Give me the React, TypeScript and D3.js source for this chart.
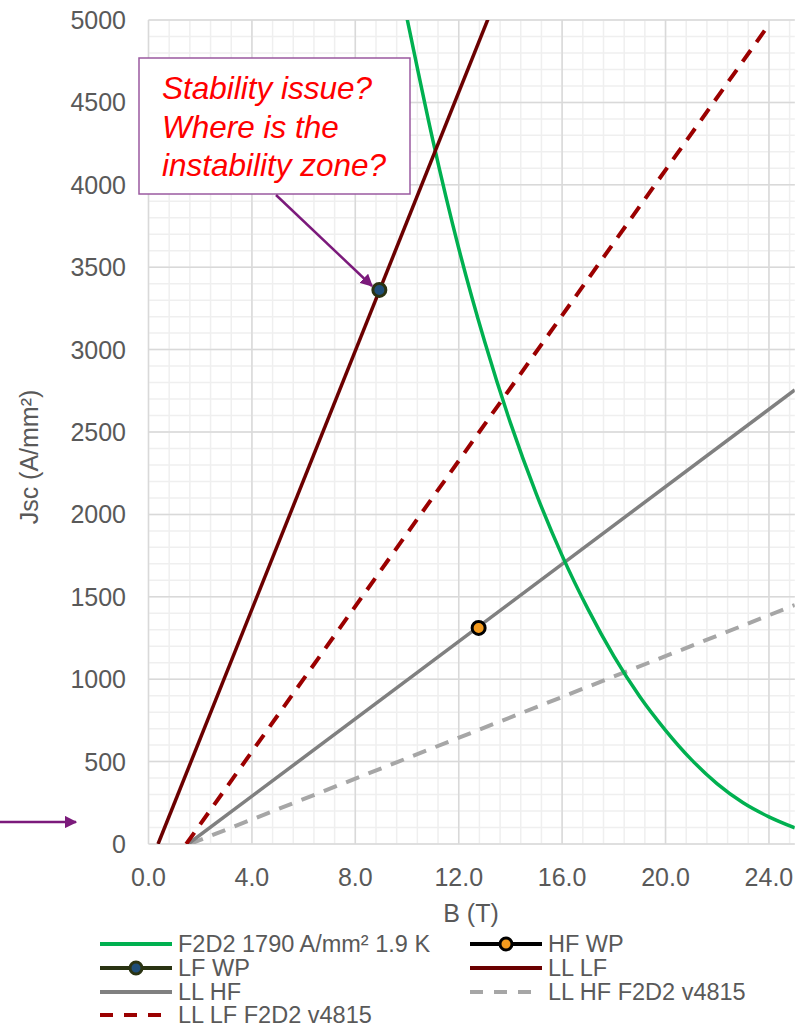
import React from "react";
import * as d3 from "d3";

// ---- data ----
const f2d2B = [9.8, 10, 11, 12, 13, 14, 15, 16, 17, 18, 19, 20, 21, 22, 23, 24, 25];
const f2d2J = [5160, 5010, 4270, 3615, 3050, 2555, 2125, 1750, 1425, 1140, 895, 690, 512, 365, 250, 165, 98];

const llLFB = [0.37, 13.5];
const llLFJ = [0, 5150];
const llLFv4815B = [1.46, 23.9];
const llLFv4815J = [0, 4950];
const llHFB = [1.53, 25];
const llHFJ = [0, 2755];
const llHFv4815B = [1.6, 25];
const llHFv4815J = [0, 1450];

const lfWP = { b: 8.93, j: 3362 };
const hfWP = { b: 12.77, j: 1311 };

const xTicks = [0, 4, 8, 12, 16, 20, 24];
const yTicks = [0, 500, 1000, 1500, 2000, 2500, 3000, 3500, 4000, 4500, 5000];

const annotationLines = ["Stability issue?", "Where is the", "instability zone?"];

const legendItems = [
  { label: "F2D2 1790 A/mm² 1.9 K", color: "#00b050", dash: null, marker: null, col: 0, row: 0 },
  { label: "HF WP", color: "#000000", dash: null, marker: "#f39a1e", col: 1, row: 0 },
  { label: "LF WP", color: "#2a3312", dash: null, marker: "#1f4e79", col: 0, row: 1 },
  { label: "LL LF", color: "#6b0000", dash: null, marker: null, col: 1, row: 1 },
  { label: "LL HF", color: "#808080", dash: null, marker: null, col: 0, row: 2 },
  { label: "LL HF F2D2 v4815", color: "#a6a6a6", dash: "13,11", marker: null, col: 1, row: 2 },
  { label: "LL LF F2D2 v4815", color: "#9b0000", dash: "13,11", marker: null, col: 0, row: 3 },
];

const FONT = "'Liberation Sans', Arial, sans-serif";

export default function App() {
  const W = 796, H = 1028;
  const x = d3.scaleLinear().domain([0, 25]).range([148.5, 794.8]);
  const y = d3.scaleLinear().domain([0, 5000]).range([844, 20]);
  const line = d3.line<[number, number]>().x(d => x(d[0])).y(d => y(d[1]));
  const smooth = d3.line<[number, number]>().x(d => x(d[0])).y(d => y(d[1])).curve(d3.curveMonotoneX);
  const zip = (a: number[], b: number[]) => a.map((v, i) => [v, b[i]] as [number, number]);

  const minorX = d3.range(0, 25.001, 0.8);
  const minorY = d3.range(0, 5001, 100);

  const legendColX = [100, 470];
  const legendRowY = [944, 968, 992, 1015];

  return (
    <svg width={W} height={H} style={{ position: "absolute", left: 0, top: 0, background: "#fff" }} fontFamily={FONT}>
      <defs>
        <clipPath id="plot">
          <rect x={x(0)} y={y(5000)} width={x(25) - x(0)} height={y(0) - y(5000)} />
        </clipPath>
        <marker id="arr" viewBox="0 0 10 10" refX="9" refY="5" markerWidth="5" markerHeight="5" orient="auto-start-reverse" markerUnits="strokeWidth">
          <path d="M0,0 L10,5 L0,10 z" fill="#7b1a7b" />
        </marker>
      </defs>
      {/* grid */}
      {minorX.map((v, i) => (
        <line key={"mx" + i} x1={x(v)} x2={x(v)} y1={y(0)} y2={y(5000)} stroke="#efefef" strokeWidth={1.5} />
      ))}
      {minorY.map((v, i) => (
        <line key={"my" + i} x1={x(0)} x2={x(25)} y1={y(v)} y2={y(v)} stroke="#efefef" strokeWidth={1.5} />
      ))}
      {xTicks.map(v => (
        <line key={"gx" + v} x1={x(v)} x2={x(v)} y1={y(0)} y2={y(5000)} stroke="#d9d9d9" strokeWidth={1.5} />
      ))}
      {yTicks.map(v => (
        <line key={"gy" + v} x1={x(0)} x2={x(25)} y1={y(v)} y2={y(v)} stroke="#d9d9d9" strokeWidth={1.5} />
      ))}
      {/* tick labels */}
      {xTicks.map(v => (
        <text key={"tx" + v} x={x(v)} y={886} textAnchor="middle" fontSize={25} fill="#595959">{v.toFixed(1)}</text>
      ))}
      {yTicks.map(v => (
        <text key={"ty" + v} x={126} y={y(v) + 9} textAnchor="end" fontSize={25} fill="#595959">{v}</text>
      ))}
      <text x={471} y={922} textAnchor="middle" fontSize={25} fill="#595959">B (T)</text>
      <text transform={`translate(38,457) rotate(-90)`} textAnchor="middle" fontSize={25} fill="#595959">Jsc (A/mm²)</text>

      {/* series */}
      <g clipPath="url(#plot)" fill="none">
        <path d={line(zip(llHFv4815B, llHFv4815J)) || ""} stroke="#a6a6a6" strokeWidth={4} strokeDasharray="14,10" />
        <path d={line(zip(llHFB, llHFJ)) || ""} stroke="#808080" strokeWidth={3.5} />
        <path d={line(zip(llLFv4815B, llLFv4815J)) || ""} stroke="#9b0000" strokeWidth={4} strokeDasharray="14,10" />
        <path d={smooth(zip(f2d2B, f2d2J)) || ""} stroke="#00b050" strokeWidth={3.5} />
        <path d={line(zip(llLFB, llLFJ)) || ""} stroke="#6b0000" strokeWidth={3.5} />
      </g>
      <circle cx={x(lfWP.b)} cy={y(lfWP.j)} r={6.5} fill="#1f4e79" stroke="#2a3312" strokeWidth={3} />
      <circle cx={x(hfWP.b)} cy={y(hfWP.j)} r={6.5} fill="#f39a1e" stroke="#000" strokeWidth={3} />

      {/* annotation */}
      <rect x={139} y={58} width={271} height={136} fill="#fff" stroke="#9a5aa0" strokeWidth={1.5} />
      {annotationLines.map((t, i) => (
        <text key={t} x={162} y={99 + i * 38.5} fontSize={31.5} fontStyle="italic" fill="#ff0000">{t}</text>
      ))}
      <line x1={276} y1={195} x2={372} y2={286} stroke="#7b1a7b" strokeWidth={2.5} markerEnd="url(#arr)" />
      <line x1={0} y1={822} x2={76} y2={822} stroke="#7b1a7b" strokeWidth={2.5} markerEnd="url(#arr)" />

      {/* legend */}
      {legendItems.map(it => {
        const lx = legendColX[it.col];
        const ly = legendRowY[it.row];
        return (
          <g key={it.label}>
            <line x1={lx} x2={lx + 72} y1={ly} y2={ly} stroke={it.color} strokeWidth={4} strokeDasharray={it.dash || undefined} />
            {it.marker && <circle cx={lx + 36} cy={ly} r={6} fill={it.marker} stroke={it.color} strokeWidth={3} />}
            <text x={lx + 78} y={ly + 8} fontSize={23.5} fill="#595959">{it.label}</text>
          </g>
        );
      })}
    </svg>
  );
}
